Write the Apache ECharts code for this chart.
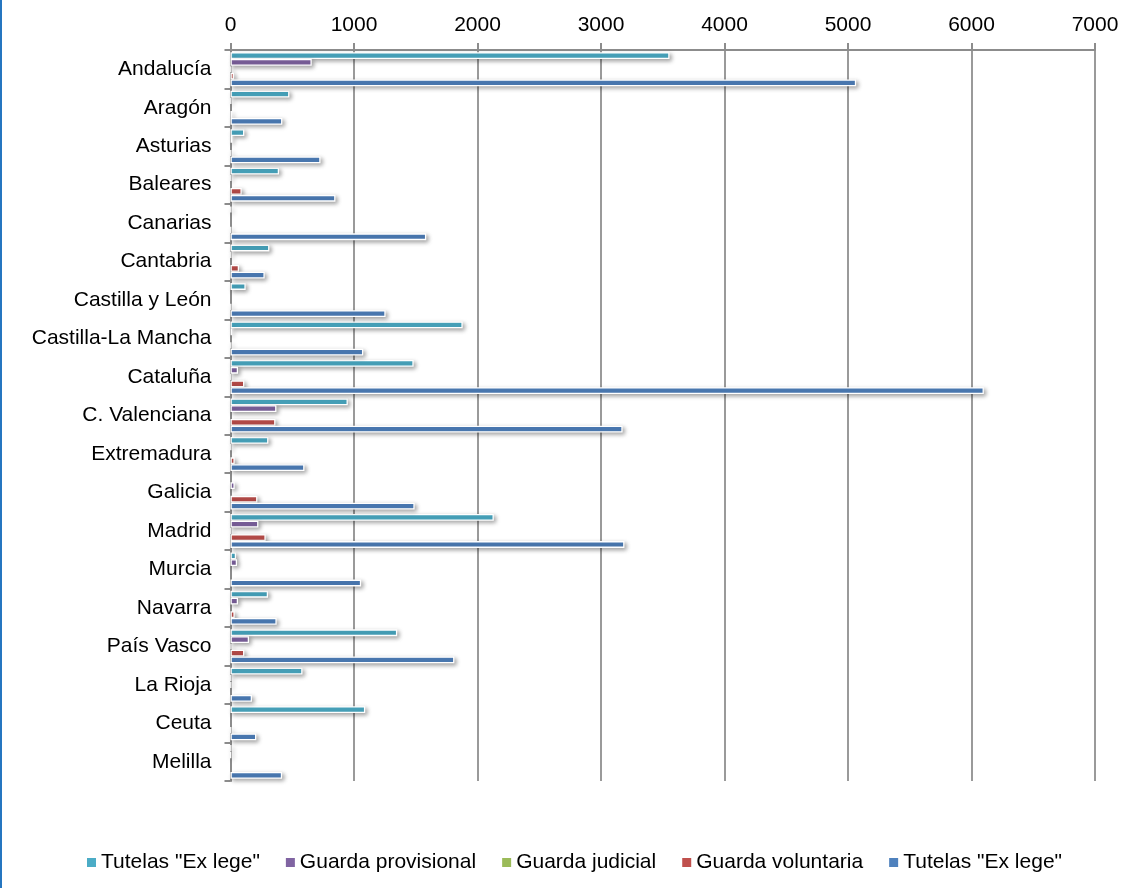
<!DOCTYPE html>
<html>
<head>
<meta charset="utf-8">
<script src="https://cdn.jsdelivr.net/npm/echarts@6/dist/echarts.min.js"></script>
<style>
html,body{margin:0;padding:0;background:#fff;}
#chart{width:1128px;height:888px;}
</style>
</head>
<body>
<div id="chart"></div>
<script>
const categories = ['Andalucía','Aragón','Asturias','Baleares','Canarias','Cantabria','Castilla y León','Castilla-La Mancha','Cataluña','C. Valenciana','Extremadura','Galicia','Madrid','Murcia','Navarra','País Vasco','La Rioja','Ceuta','Melilla'];
const xTicks = [0, 1000, 2000, 3000, 4000, 5000, 6000, 7000];
const seriesNames = ['Tutelas "Ex lege"', 'Guarda provisional', 'Guarda judicial', 'Guarda voluntaria', 'Tutelas "Ex lege" '];
const tutelasA = [3555, 477, 112, 393, 5, 315, 123, 1880, 1483, 950, 307, null, 2132, 45, 304, 1350, 583, 1091, 5];
const guardaProvisional = [658, 5, 15, 5, null, 5, null, 12, 61, 372, 5, 34, 226, 53, 61, 150, 5, null, 3];
const guardaJudicial = [5, null, null, null, null, null, null, null, 5, null, null, null, 5, null, null, 8, 5, null, null];
const guardaVoluntaria = [28, 12, 5, 91, 4, 69, 5, 5, 112, 364, 34, 218, 285, null, 34, 112, null, 4, null];
const tutelasB = [5066, 420, 729, 850, 1585, 277, 1256, 1075, 6100, 3175, 599, 1491, 3190, 1058, 374, 1813, 174, 209, 418];
const colors = ['#4bacc6', '#8064a2', '#9bbb59', '#c0504d', '#4f81bd'];

const seriesData = [tutelasA, guardaProvisional, guardaJudicial, guardaVoluntaria, tutelasB];
const FONT = '"Liberation Sans", Arial, sans-serif';

const chart = echarts.init(document.getElementById('chart'), null, {renderer: 'canvas'});
chart.setOption({
  animation: false,
  backgroundColor: '#ffffff',
  color: colors,
  graphic: [{
    type: 'rect', left: 0, top: 0, shape: {width: 2, height: 888},
    style: {fill: '#2576c0'}, silent: true
  }],
  grid: {left: 230.5, right: 33, top: 50, height: 731, containLabel: false},
  legend: {
    left: 82, top: 847,
    itemWidth: 9, itemHeight: 9, itemGap: 26,
    icon: 'rect',
    itemStyle: {borderWidth: 0, shadowBlur: 0, shadowOffsetX: 0, shadowOffsetY: 0},
    textStyle: {fontFamily: FONT, fontSize: 21, color: '#000'},
    data: seriesNames
  },
  xAxis: {
    type: 'value', position: 'top',
    min: xTicks[0], max: xTicks[xTicks.length - 1], interval: 1000,
    axisLine: {show: true, lineStyle: {color: '#8c8c8c', width: 2}},
    axisTick: {show: true, length: 7, lineStyle: {color: '#8c8c8c', width: 2}},
    axisLabel: {fontFamily: FONT, fontSize: 21, color: '#000', margin: 14,
      formatter: v => String(v)},
    splitLine: {show: true, lineStyle: {color: '#9a9a9a', width: 2}}
  },
  yAxis: {
    type: 'category', inverse: true, data: categories,
    axisLine: {show: true, lineStyle: {color: '#8c8c8c', width: 2}},
    axisTick: {show: true, length: 6, lineStyle: {color: '#8c8c8c', width: 2}},
    axisLabel: {fontFamily: FONT, fontSize: 21, color: '#000', margin: 19},
    splitLine: {show: false}
  },
  series: seriesData.map((d, i) => ({
    name: seriesNames[i],
    type: 'bar',
    data: d,
    barWidth: 6.8,
    barGap: '0%',
    itemStyle: {
      color: colors[i],
      borderColor: '#ffffff', borderWidth: 1.3,
      shadowColor: 'rgba(0,0,0,0.35)', shadowBlur: 4, shadowOffsetX: 2, shadowOffsetY: 2
    }
  }))
});
</script>
</body>
</html>
